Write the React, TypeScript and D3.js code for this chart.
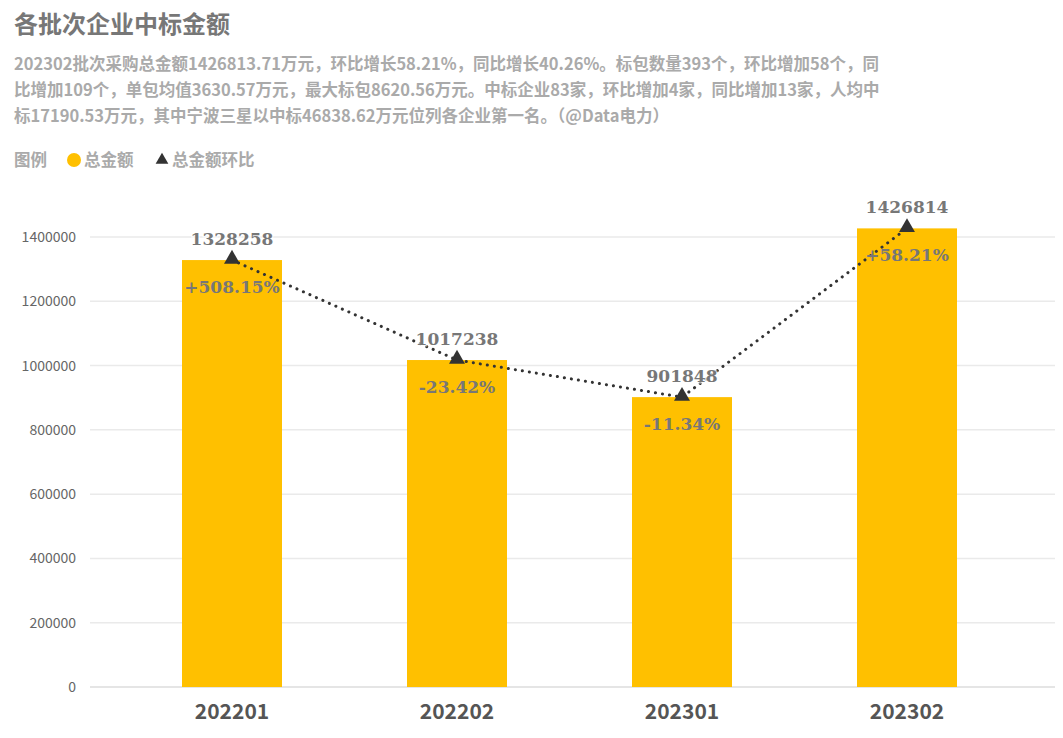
import { useEffect, useRef } from 'react';
import * as d3 from 'd3';

const batches = ['202201', '202202', '202301', '202302'];
const totals = [1328258, 1017238, 901848, 1426814];
const momLabels = ['+508.15%', '-23.42%', '-11.34%', '+58.21%'];
const yTicks = [0, 200000, 400000, 600000, 800000, 1000000, 1200000, 1400000];
const subtitleLines = [
  '202302批次采购总金额1426813.71万元，环比增长58.21%，同比增长40.26%。标包数量393个，环比增加58个，同',
  '比增加109个，单包均值3630.57万元，最大标包8620.56万元。中标企业83家，环比增加4家，同比增加13家，人均中',
  '标17190.53万元，其中宁波三星以中标46838.62万元位列各企业第一名。（@Data电力）',
];

const W = 1063;
const H = 738;
const SANS = '"Noto Sans CJK SC", "Noto Sans", sans-serif';
const SERIF = '"DejaVu Serif", serif';

export default function App() {
  const ref = useRef<SVGSVGElement>(null);

  useEffect(() => {
    const svg = d3.select(ref.current!);
    svg.selectAll('*').remove();

    svg.append('rect').attr('x', 2).attr('y', 2).attr('width', W).attr('height', H)
      .attr('fill', '#fff').attr('stroke', '#eee').attr('stroke-width', 3);

    svg.append('text').attr('x', 14).attr('y', 33).attr('fill', '#777')
      .attr('font-family', SANS).attr('font-size', 24).attr('font-weight', 700)
      .text('各批次企业中标金额');

    subtitleLines.forEach((l, i) => {
      svg.append('text').attr('x', 14).attr('y', 70 + i * 26).attr('fill', '#aaa')
        .attr('font-family', SANS).attr('font-size', 16.5).attr('font-weight', 700).text(l);
    });

    const lg = svg.append('g').attr('font-family', SANS).attr('font-size', 16.5).attr('font-weight', 700);
    lg.append('text').attr('x', 14).attr('y', 166).attr('fill', '#aaa').text('图例');
    lg.append('circle').attr('cx', 74).attr('cy', 160).attr('r', 7).attr('fill', '#FFC000');
    lg.append('text').attr('x', 84).attr('y', 166).attr('fill', '#aaa').text('总金额');
    lg.append('path').attr('d', d3.symbol(d3.symbolTriangle, 70)()!)
      .attr('transform', 'translate(162,160)').attr('fill', '#333');
    lg.append('text').attr('x', 172).attr('y', 166).attr('fill', '#aaa').text('总金额环比');

    const x = d3.scaleBand<string>().domain(batches).range([119.5, 1019.5]).paddingInner(125 / 225).paddingOuter(62.5 / 225);
    const y = d3.scaleLinear().domain([0, 1400000]).range([687, 237]);

    yTicks.forEach((t) => {
      svg.append('line').attr('x1', 90).attr('x2', 1057).attr('y1', y(t)).attr('y2', y(t))
        .attr('stroke', t === 0 ? '#ddd' : '#eaeaea').attr('stroke-width', 1.5);
      svg.append('text').attr('x', 76).attr('y', y(t) + 5).attr('text-anchor', 'end')
        .attr('fill', '#666').attr('font-family', SANS).attr('font-size', 14).text(String(t));
    });

    batches.forEach((b, i) => {
      svg.append('rect').attr('x', x(b)!).attr('y', y(totals[i])).attr('width', x.bandwidth())
        .attr('height', y(0) - y(totals[i])).attr('fill', '#FFC000');
      svg.append('text').attr('x', x(b)! + x.bandwidth() / 2).attr('y', 719).attr('text-anchor', 'middle')
        .attr('fill', '#555').attr('font-family', SANS).attr('font-size', 21).attr('font-weight', 700).text(b);
    });

    const cx = (b: string) => x(b)! + x.bandwidth() / 2;
    const line = d3.line<number>().x((_, i) => cx(batches[i])).y((d) => y(d));
    svg.append('path').attr('d', line(totals)!).attr('fill', 'none').attr('stroke', '#333')
      .attr('stroke-width', 3).attr('stroke-dasharray', '0.1,7').attr('stroke-linecap', 'round');

    batches.forEach((b, i) => {
      const yy = y(totals[i]);
      svg.append('path').attr('d', d3.symbol(d3.symbolTriangle, 110)()!)
        .attr('transform', `translate(${cx(b)},${yy - 1})`).attr('fill', '#333');
      svg.append('text').attr('x', cx(b)).attr('y', yy - 15).attr('text-anchor', 'middle')
        .attr('fill', '#777').attr('font-family', SERIF).attr('font-size', 17).attr('font-weight', 700)
        .attr('stroke', '#fff').attr('stroke-width', 3).attr('paint-order', 'stroke').attr('stroke-opacity', 0.6)
        .text(String(totals[i]));
      svg.append('text').attr('x', cx(b)).attr('y', yy + 33).attr('text-anchor', 'middle')
        .attr('fill', '#777').attr('font-family', SERIF).attr('font-size', 17).attr('font-weight', 700)
        .text(momLabels[i]);
    });
  }, []);

  return <svg ref={ref} width={W} height={H} style={{ display: 'block', margin: -8 }} />;
}
